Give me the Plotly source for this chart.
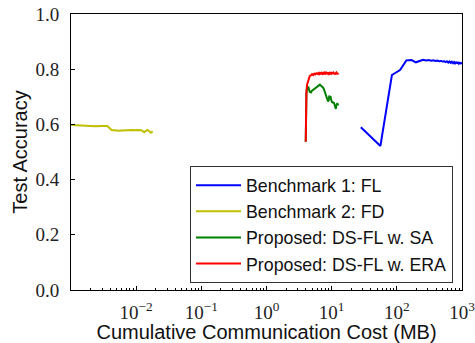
import plotly.graph_objects as go

# ---------------- data ----------------
fl_cost = [28, 56, 84, 112, 140, 168, 196, 224, 252, 280, 308, 336, 364, 392, 420, 448,
           476, 504, 532, 560, 588, 616, 644, 672, 700, 728, 756, 784, 812, 840, 868,
           896, 924, 952, 980, 1008]
fl_acc = [0.590, 0.522, 0.779, 0.797, 0.832, 0.833, 0.825, 0.831, 0.834, 0.832, 0.833,
          0.831, 0.832, 0.830, 0.831, 0.829, 0.830, 0.828, 0.829, 0.826, 0.829, 0.824,
          0.828, 0.823, 0.827, 0.822, 0.826, 0.821, 0.825, 0.822, 0.824, 0.820, 0.823,
          0.821, 0.822, 0.820]

fd_cost = [0.0006, 0.0012, 0.0018, 0.0024, 0.0030, 0.0036, 0.0042, 0.0048, 0.0054, 0.0060,
           0.0066, 0.0072, 0.0078, 0.0084, 0.0090, 0.0096, 0.0102, 0.0108, 0.0114, 0.0120,
           0.0126, 0.0132, 0.0138, 0.0144, 0.0150, 0.0156, 0.0162, 0.0168, 0.0174, 0.0180]
fd_acc = [0.600, 0.597, 0.593, 0.593, 0.594, 0.594, 0.580, 0.577, 0.577, 0.578,
          0.579, 0.580, 0.579, 0.580, 0.580, 0.579, 0.580, 0.580, 0.579, 0.579,
          0.576, 0.572, 0.575, 0.579, 0.580, 0.577, 0.574, 0.570, 0.573, 0.571]

ds_cost = [4.0, 4.05, 4.1, 4.2, 4.4, 4.6, 4.8, 5.0, 5.2, 5.4, 5.6, 5.8, 6.0, 6.2, 6.4,
           6.6, 6.8, 7.0, 7.2, 7.4, 7.6, 7.8, 8.0, 8.2, 8.4, 8.6, 8.8, 9.0, 9.2, 9.4,
           9.6, 9.8, 10.0, 10.2, 10.4, 10.6, 10.8, 11.0, 11.2, 11.4, 11.6, 11.8, 12.0,
           12.2, 12.4, 12.6]
sa_acc = [0.537, 0.650, 0.710, 0.735, 0.735, 0.718, 0.716, 0.722, 0.725, 0.729, 0.731,
          0.735, 0.737, 0.740, 0.742, 0.744, 0.741, 0.739, 0.736, 0.733, 0.728, 0.720,
          0.714, 0.708, 0.702, 0.690, 0.683, 0.687, 0.704, 0.698, 0.702, 0.690, 0.684,
          0.679, 0.682, 0.676, 0.680, 0.672, 0.668, 0.662, 0.656, 0.672, 0.668, 0.678,
          0.670, 0.674]
era_acc = [0.537, 0.660, 0.720, 0.745, 0.763, 0.775, 0.778, 0.782, 0.779, 0.784, 0.781,
           0.785, 0.783, 0.786, 0.780, 0.786, 0.784, 0.787, 0.783, 0.786, 0.781, 0.787,
           0.784, 0.788, 0.785, 0.786, 0.783, 0.788, 0.784, 0.787, 0.785, 0.789, 0.784,
           0.787, 0.786, 0.788, 0.783, 0.787, 0.781, 0.786, 0.784, 0.788, 0.785, 0.787,
           0.782, 0.785]

x_tickvals = [0.01, 0.1, 1, 10, 100, 1000]
x_ticktext = ["10<sup>−2</sup>", "10<sup>−1</sup>", "10<sup>0</sup>",
              "10<sup>1</sup>", "10<sup>2</sup>", "10<sup>3</sup>"]
y_tickvals = [0.0, 0.2, 0.4, 0.6, 0.8, 1.0]

names = ["Benchmark 1: FL", "Benchmark 2: FD",
         "Proposed: DS-FL w. SA", "Proposed: DS-FL w. ERA"]
colors = ["#0000ff", "#bfbf00", "#008000", "#ff0000"]

# ---------------- figure ----------------
fig = go.Figure()
series = [(fl_cost, fl_acc), (fd_cost, fd_acc), (ds_cost, sa_acc), (ds_cost, era_acc)]
for (xs, ys), nm, col in zip(series, names, colors):
    fig.add_trace(go.Scatter(x=xs, y=ys, mode="lines", name=nm,
                             line=dict(color=col, width=2)))

tick_font = dict(family="Liberation Serif", size=19, color="#222222")
title_font = dict(family="Liberation Sans", size=20, color="#111111")

fig.update_layout(
    width=475, height=343,
    margin=dict(l=71, r=13, t=14, b=53, autoexpand=False),
    paper_bgcolor="white", plot_bgcolor="white",
    showlegend=True,
    legend=dict(x=0.977, y=0.025, xanchor="right", yanchor="bottom",
                bgcolor="white", bordercolor="#333333", borderwidth=1,
                font=dict(family="Liberation Sans", size=17.8, color="#111111"),
                tracegroupgap=0, itemwidth=45),
)
fig.update_xaxes(
    type="log", range=[-3, 3], automargin=False,
    tickmode="array", tickvals=x_tickvals, ticktext=x_ticktext,
    ticks="inside", ticklen=4, tickcolor="black", tickwidth=1,
    minor=dict(ticks="inside", ticklen=2, tickcolor="black", dtick="D1", showgrid=False),
    showline=True, linecolor="black", linewidth=1, mirror=True,
    showgrid=False, zeroline=False,
    tickfont=tick_font, ticklabelstandoff=5, ticklabeloverflow="allow",
    title=dict(text="Cumulative Communication Cost (MB)", font=title_font, standoff=5),
)
fig.update_yaxes(
    range=[0, 1], automargin=False,
    tickmode="array", tickvals=y_tickvals, tickformat=".1f",
    ticks="inside", ticklen=4, tickcolor="black", tickwidth=1,
    showline=True, linecolor="black", linewidth=1, mirror=True,
    showgrid=False, zeroline=False,
    tickfont=tick_font, ticklabelstandoff=7,
    title=dict(text="Test Accuracy", font=title_font, standoff=2),
)

fig.write_html("out.html")
